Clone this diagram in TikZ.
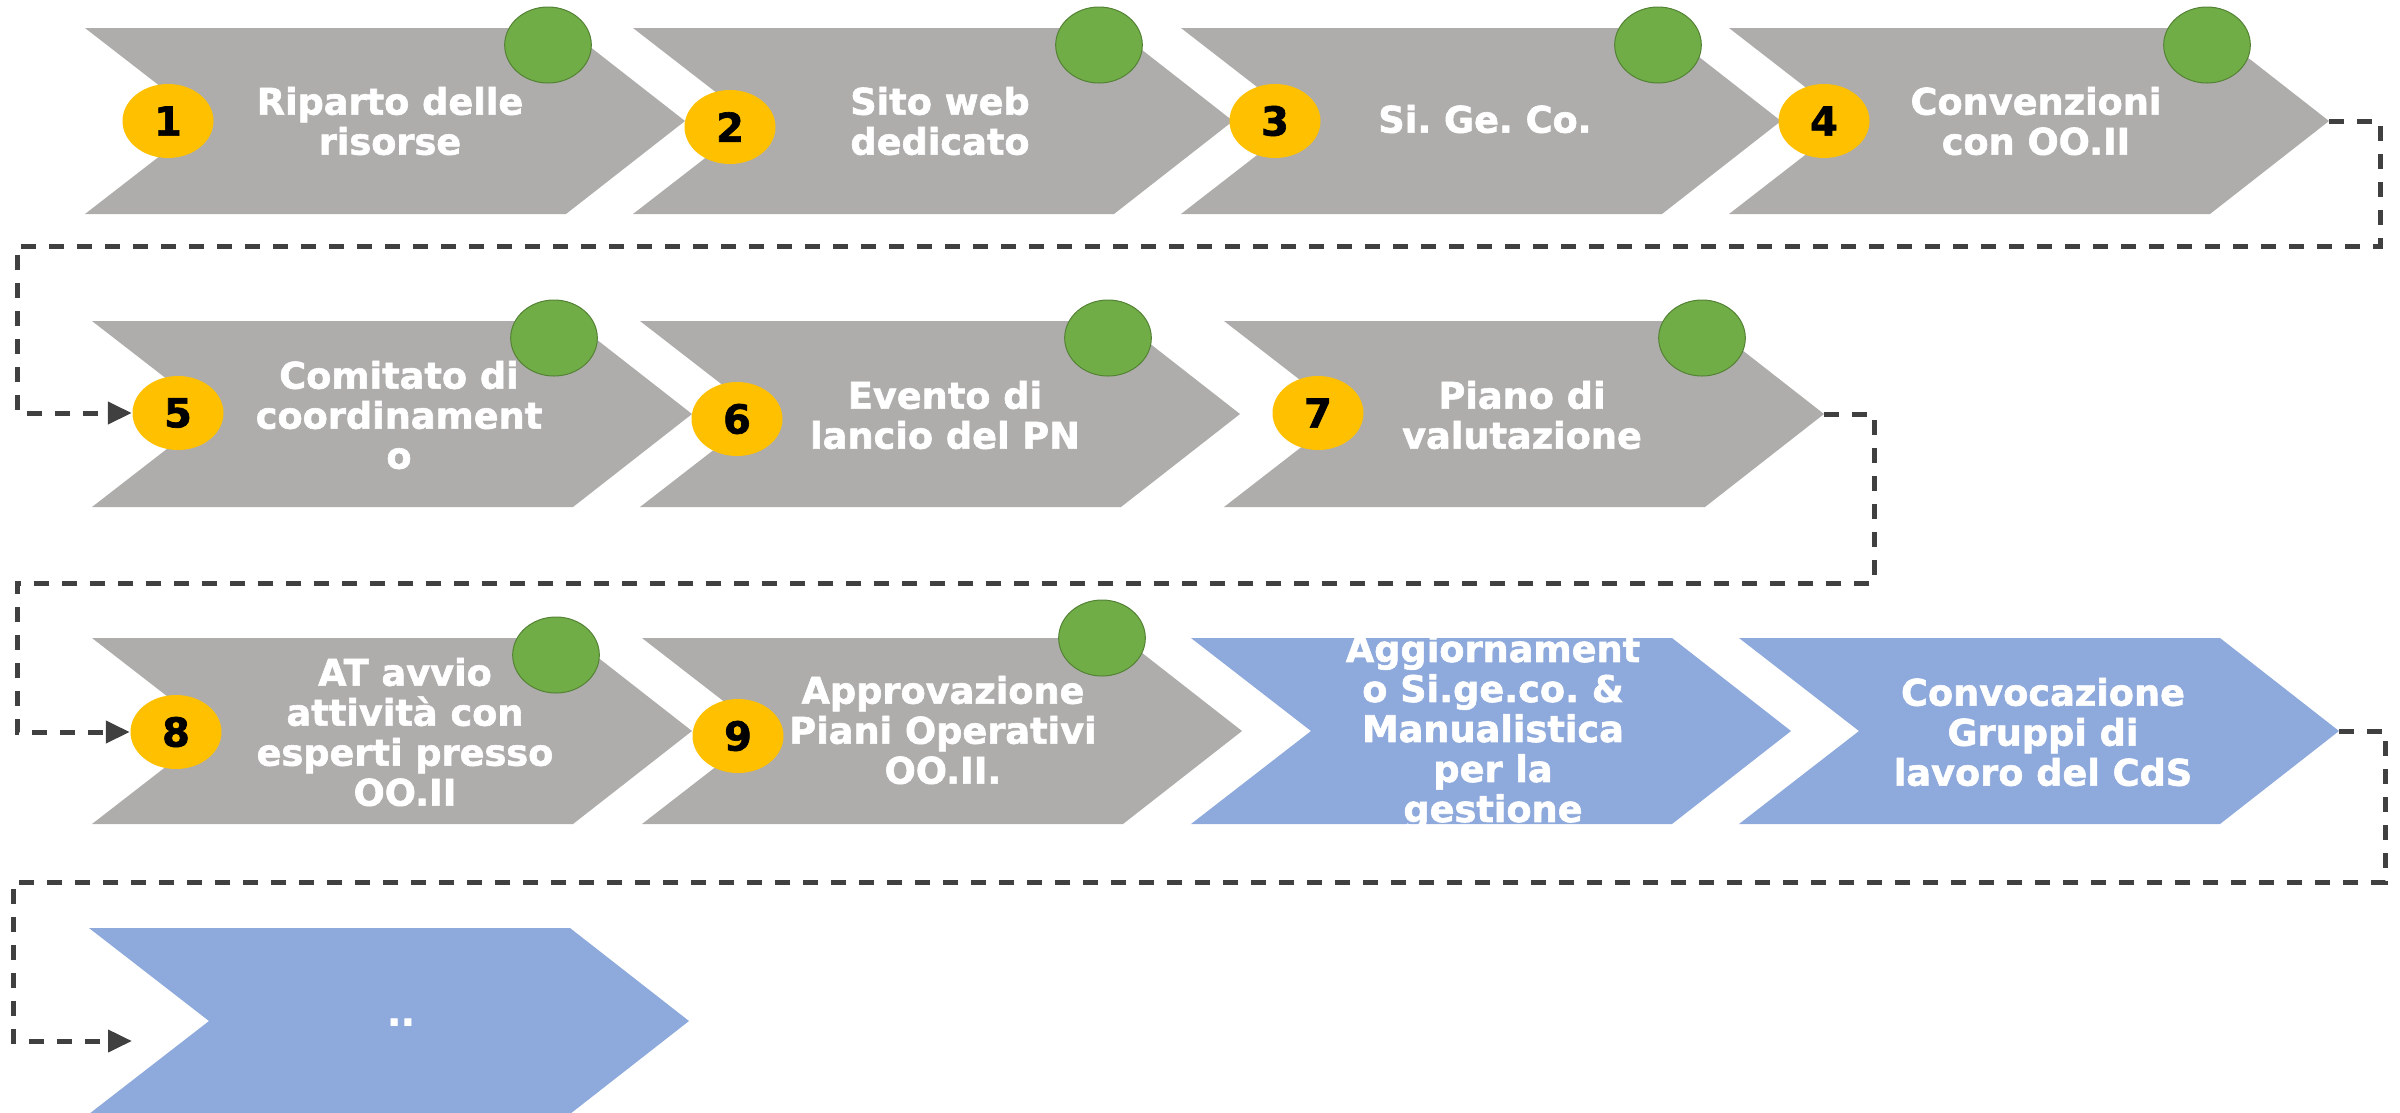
\documentclass[tikz,border=0pt]{standalone}
\usepackage{fontspec}
\usetikzlibrary{shapes.geometric,arrows.meta}
\newfontfamily\heavyfont{DejaVu Sans}[BoldFeatures={FakeBold=1.6}]
\frenchspacing

\definecolor{chevgrey}{HTML}{AEADAB}
\definecolor{chevblue}{HTML}{8EA9DB}
\definecolor{dotyellow}{HTML}{FFC000}
\definecolor{dotgreen}{HTML}{70AD47}
\definecolor{flowgrey}{HTML}{404040}

\tikzset{
	    greychev/.style={fill=chevgrey},
	    bluechev/.style={fill=chevblue},
	    phase/.style={
					text=white,
					align=center,
					inner sep=0pt,
					font=\heavyfont\bfseries\fontsize{11}{12}\selectfont
	    },
	    numdot/.style={
					ellipse,
					fill=dotyellow,
					minimum width=27.3pt,
					minimum height=22.2pt,
					inner sep=0pt,
					font=\heavyfont\bfseries\fontsize{12}{12}\selectfont
	    },
	    donedot/.style={
					ellipse,
					fill=dotgreen,
					draw=dotgreen!75!black,
					line width=0.3pt,
					minimum width=26pt,
					minimum height=22.8pt,
					inner sep=0pt
	    },
	    flow/.style={
					flowgrey,
					line width=1.5pt,
					dash pattern=on 4.6pt off 3.8pt,
					-{Triangle[length=7.2pt,width=6.5pt]}
	    }
		}

\begin{document}
\begin{tikzpicture}[x=0.3pt,y=-0.3pt]
			\useasboundingbox (0,0) rectangle (2400,1112);

			% first row
			\fill[greychev] (85,28) -- ++(481,0) -- ++(119,93) -- ++(-119,93) -- ++(-481,0) -- ++(120,-93) -- cycle;
			\fill[greychev] (633,28) -- ++(481,0) -- ++(119,93) -- ++(-119,93) -- ++(-481,0) -- ++(120,-93) -- cycle;
			\fill[greychev] (1181,28) -- ++(481,0) -- ++(119,93) -- ++(-119,93) -- ++(-481,0) -- ++(120,-93) -- cycle;
			\fill[greychev] (1729,28) -- ++(481,0) -- ++(119,93) -- ++(-119,93) -- ++(-481,0) -- ++(120,-93) -- cycle;
			\coordinate (tip4) at (2329,121);

			% second row
			\fill[greychev] (92,321) -- ++(481,0) -- ++(119,93) -- ++(-119,93) -- ++(-481,0) -- ++(120,-93) -- cycle;
			\fill[greychev] (640,321) -- ++(481,0) -- ++(119,93) -- ++(-119,93) -- ++(-481,0) -- ++(120,-93) -- cycle;
			\fill[greychev] (1224,321) -- ++(481,0) -- ++(119,93) -- ++(-119,93) -- ++(-481,0) -- ++(120,-93) -- cycle;
			\coordinate (tip7) at (1824,414);

			% third row
			\fill[greychev] (92,638) -- ++(481,0) -- ++(119,93) -- ++(-119,93) -- ++(-481,0) -- ++(120,-93) -- cycle;
			\fill[greychev] (642,638) -- ++(481,0) -- ++(119,93) -- ++(-119,93) -- ++(-481,0) -- ++(120,-93) -- cycle;
			\fill[bluechev] (1191,638) -- ++(481,0) -- ++(119,93) -- ++(-119,93) -- ++(-481,0) -- ++(120,-93) -- cycle;
			\fill[bluechev] (1739,638) -- ++(481,0) -- ++(119,93) -- ++(-119,93) -- ++(-481,0) -- ++(120,-93) -- cycle;
			\coordinate (tip11) at (2339,731);

			% last row
			\fill[bluechev] (89,928) -- ++(481,0) -- ++(119,93) -- ++(-119,93) -- ++(-481,0) -- ++(120,-93) -- cycle;
			\coordinate (end12) at (132,1041);

			\node[phase] (t1) at (390,121) {Riparto delle\\risorse};
			\node[phase] (t2) at (940,121) {Sito web\\dedicato};
			\node[phase] (t3) at (1485,119) {Si. Ge. Co.};
			\node[phase] (t4) at (2036,121) {Convenzioni\\con OO.II};
			\node[phase] (t5) at (399,415) {Comitato di\\coordinament\\o};
			\node[phase] (t6) at (945,415) {Evento di\\lancio del PN};
			\node[phase] (t7) at (1522,415) {Piano di\\valutazione};
			\node[phase] (t8) at (405,732) {AT avvio\\attività con\\esperti presso\\OO.II};
			\node[phase] (t9) at (943,730) {Approvazione\\Piani Operativi\\OO.II.};
			\node[phase] (t10) at (1493,732) {Aggiornament\\o Si.ge.co. \&\\Manualistica\\per la\\gestione};
			\node[phase] (t11) at (2043,732) {Convocazione\\Gruppi di\\lavoro del CdS};
			\node[phase] (t12) at (401,1022) {..};

			\node[donedot] (g1) at (548,45) {};
			\node[donedot] (g2) at (1099,45) {};
			\node[donedot] (g3) at (1658,45) {};
			\node[donedot] (g4) at (2207,45) {};
			\node[donedot] (g5) at (554,338) {};
			\node[donedot] (g6) at (1108,338) {};
			\node[donedot] (g7) at (1702,338) {};
			\node[donedot] (g8) at (556,655) {};
			\node[donedot] (g9) at (1102,638) {};

			\node[numdot] (n1) at (168,121) {1};
			\node[numdot] (n2) at (730,127) {2};
			\node[numdot] (n3) at (1275,121) {3};
			\node[numdot] (n4) at (1824,121) {4};
			\node[numdot] (n5) at (178,413) {5};
			\node[numdot] (n6) at (737,419) {6};
			\node[numdot] (n7) at (1318,413) {7};
			\node[numdot] (n8) at (176,732) {8};
			\node[numdot] (n9) at (738,736) {9};

			\draw[flow] (tip4) -- ++(51,0) |- (17,246) |- (n5.west);
			\draw[flow] (tip7) -- ++(50,0) |- (17,583) |- (n8.west);
			\draw[flow] (tip11) -- ++(46,0) |- (13,882) |- (end12);
		\end{tikzpicture}
\end{document}
